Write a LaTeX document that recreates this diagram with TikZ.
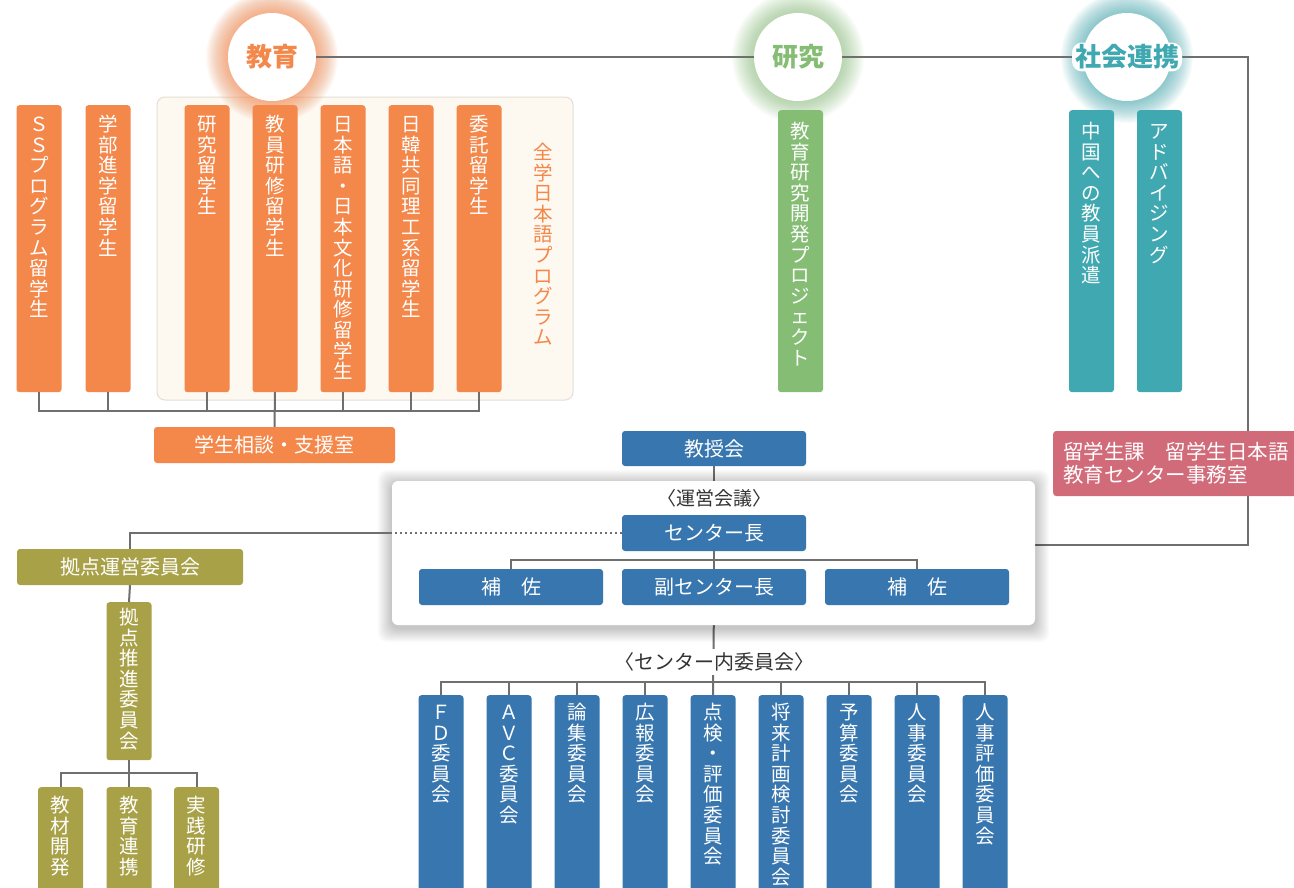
\documentclass[tikz,border=0pt]{standalone}
\usepackage{fontspec}
\setmainfont{Noto Sans CJK JP}
\pgfdeclarelayer{back}
\pgfdeclarelayer{lines}
\pgfsetlayers{back,lines,main}

\definecolor{cOrange}{HTML}{F4874A}
\definecolor{cPanel}{HTML}{FDF8F0}
\definecolor{cPanelEdge}{HTML}{E3DED7}
\definecolor{cGreen}{HTML}{85BD75}
\definecolor{cTeal}{HTML}{40A8B0}
\definecolor{cBlue}{HTML}{3776AE}
\definecolor{cOlive}{HTML}{A8A147}
\definecolor{cPink}{HTML}{D16B7A}
\definecolor{cLine}{HTML}{6F6F6F}
\definecolor{cText}{HTML}{333333}

% vertical (tategaki) text: one character per line
\makeatletter
\newdimen\vtpitch \vtpitch=20.6pt
\def\vt@loop#1{\ifx#1\@nil\else\hbox to 1em{\hss\vrule width 0pt height \dimexpr\vtpitch-0.12em\relax depth 0.12em\relax#1\hss}\expandafter\vt@loop\fi}
\newcommand\vtxt[1]{\vbox{\offinterlineskip\vt@loop#1\@nil}}
\newcommand\vcol[3]{\vbox to #1{\offinterlineskip\vskip#2\relax\vt@loop#3\@nil\vss}}
\makeatother

\tikzset{
  every node/.style={inner sep=0pt},
  vfont/.style={font=\fontsize{19.5}{20}\selectfont},
  colbox/.style={vfont, rounded corners=3pt, text=white, minimum width=45pt, anchor=north},
  ocol/.style={colbox, fill=cOrange},
  gcol/.style={colbox, fill=cGreen},
  tcol/.style={colbox, fill=cTeal},
  bcol/.style={colbox, fill=cBlue},
  lcol/.style={colbox, fill=cOlive},
  wide/.style={rounded corners=3pt, text=white, minimum height=36pt, font=\fontsize{20}{24}\selectfont},
  conn/.style={draw=cLine, line width=2pt},
  mainline/.style={draw=cLine, line width=2.5pt},
  hub/.style={circle, fill=white, minimum size=88pt},
  hubtext/.style={font=\fontsize{26}{30}\selectfont\bfseries},
  label/.style={text=cText, font=\fontsize{19.5}{22}\selectfont},
}

\begin{document}
\begin{tikzpicture}[x=1pt,y=-1pt]
\useasboundingbox (0,0) rectangle (1294,887);
\clip (0,0) rectangle (1294,887);
\begin{pgfonlayer}{back}
  \fill[white] (0,0) rectangle (1294,887);
\end{pgfonlayer}

% ---- three pillars ----
\node[hub] (kyoiku) at (272,57) {};
\node[hub] (kenkyu) at (798,57) {};
\node[hub] (shakai) at (1127,57) {};
\node[hubtext, text=cOrange] (kyoikuL) at (kyoiku) {教育};
\node[hubtext, text=cGreen] (kenkyuL) at (kenkyu) {研究};
\node[hubtext, text=cTeal, fill=white, rounded corners=10pt, inner xsep=3pt, inner ysep=2pt] (shakaiL) at (shakai) {社会連携};

% ---- education columns ----
\node[ocol] (ss)      at (39,105)  {\vcol{287pt}{8pt}{ＳＳプログラム留学生}};
\node[ocol] (gakubu)  at (108,105) {\vcol{287pt}{8pt}{学部進学留学生}};
\node[ocol] (kenR)    at (207,105) {\vcol{287pt}{8pt}{研究留学生}};
\node[ocol] (kyoin)   at (275,105) {\vcol{287pt}{8pt}{教員研修留学生}};
\node[ocol] (nihongo) at (343,105) {\vcol{287pt}{8pt}{日本語・日本文化研修留学生}};
\node[ocol] (nikkan)  at (411,105) {\vcol{287pt}{8pt}{日韓共同理工系留学生}};
\node[ocol] (itaku)   at (479,105) {\vcol{287pt}{8pt}{委託留学生}};
\node[vfont, text=cOrange, anchor=north] (progL) at (543,141) {\vtxt{全学日本語プログラム}};
\node[wide, fill=cOrange, minimum width=241pt] (soudan) at (274.5,445) {学生相談・支援室};

% ---- research / social columns ----
\node[gcol] (kaihatsu) at (800.5,110)  {\vcol{282pt}{10pt}{教育研究開発プロジェクト}};
\node[tcol] (haken)    at (1091.5,110) {\vcol{282pt}{10pt}{中国への教員派遣}};
\node[tcol] (advise)   at (1159.5,110) {\vcol{282pt}{10pt}{アドバイジング}};
\node[fill=cPink, rounded corners=3pt, minimum height=65pt, minimum width=260pt,
      anchor=west, text=white, align=left, text width=240pt,
      font=\fontsize{20.5}{23}\selectfont] (jimu) at (1053,463.5)
      {留学生課　留学生日本語\\教育センター事務室};

% ---- management ----
\node[wide, fill=cBlue, minimum width=184pt, minimum height=35pt] (kyoju) at (714,448.5) {教授会};
\node[fill=white, rounded corners=6pt, minimum width=643pt, minimum height=144pt] (unei) at (713.5,553) {};
\node[label, font=\fontsize{19}{22}\selectfont] (ueiL) at (714,498) {〈運営会議〉};
\node[wide, fill=cBlue, minimum width=184pt] (chief) at (714,533) {センター長};
\node[wide, fill=cBlue, minimum width=184pt] (hosaL) at (511,587) {補　佐};
\node[wide, fill=cBlue, minimum width=184pt] (fuku)  at (714,587) {副センター長};
\node[wide, fill=cBlue, minimum width=184pt] (hosaR) at (917,587) {補　佐};

% ---- committees ----
\node[label, fill=white, inner xsep=2pt, inner ysep=4pt, font=\fontsize{20}{22}\selectfont] (cmL) at (714,662) {〈センター内委員会〉};
\node[bcol] (c1) at (441,695) {\vcol{205pt}{6pt}{ＦＤ委員会}};
\node[bcol] (c2) at (509,695) {\vcol{205pt}{6pt}{ＡＶＣ委員会}};
\node[bcol] (c3) at (577,695) {\vcol{205pt}{6pt}{論集委員会}};
\node[bcol] (c4) at (645,695) {\vcol{205pt}{6pt}{広報委員会}};
\node[bcol] (c5) at (713,695) {\vcol{205pt}{6pt}{点検・評価委員会}};
\node[bcol] (c6) at (781,695) {\vcol{205pt}{6pt}{将来計画検討委員会}};
\node[bcol] (c7) at (849,695) {\vcol{205pt}{6pt}{予算委員会}};
\node[bcol] (c8) at (917,695) {\vcol{205pt}{6pt}{人事委員会}};
\node[bcol] (c9) at (985,695) {\vcol{205pt}{6pt}{人事評価委員会}};

% ---- hub committee (left) ----
\node[wide, fill=cOlive, minimum width=226pt] (kyoten) at (130,567) {拠点運営委員会};
\node[lcol] (suishin) at (129,602) {\vcol{158pt}{4pt}{拠点推進委員会}};
\node[lcol] (k1) at (60.5,787)  {\vcol{113pt}{7pt}{教材開発}};
\node[lcol] (k2) at (129,787)   {\vcol{113pt}{7pt}{教育連携}};
\node[lcol] (k3) at (196.5,787) {\vcol{113pt}{7pt}{実践研修}};

% ---- connectors ----
\coordinate (obus) at (0,411);
\coordinate (ibus) at (0,560);
\coordinate (cbus) at (0,682);
\coordinate (kbus) at (0,773);
\coordinate (turn) at (1248,57);
\coordinate (rin)  at (1035,545);
\coordinate (lin)  at (392,533);

\draw[conn] (ss.south) -- (ss.south |- obus) -- (itaku.south |- obus) -- (itaku.south);
\foreach \n in {gakubu,kenR,kyoin,nihongo,nikkan}
  \draw[conn] (\n.south) -- (\n.south |- obus);
\draw[conn] (kyoin.south) -- (soudan.north);

\draw[conn] (hosaL.north) -- (hosaL.north |- ibus) -- (hosaR.north |- ibus) -- (hosaR.north);
\draw[conn] (chief.south) -- (fuku.north);
\draw[conn, dash pattern=on 2pt off 3pt] (chief.west) -- (lin);
\draw[conn] (lin) -| (kyoten.north);

\draw[conn] (kyoten.south) -- (suishin.north);
\draw[conn] (k1.north) -- (k1.north |- kbus) -- (k3.north |- kbus) -- (k3.north);
\draw[conn] (suishin.south) -- (k2.north);

\begin{pgfonlayer}{lines}
  \draw[mainline] (kyoiku.center) -- (turn) -- (turn |- rin) -- (rin);
  \draw[conn] (kyoju.south) -- (chief.north);
  \draw[conn] (fuku.south) -- (c5.north);
  \draw[conn] (c1.north) -- (c1.north |- cbus) -- (c9.north |- cbus) -- (c9.north);
  \foreach \n in {c2,c3,c4,c6,c7,c8}
    \draw[conn] (\n.north) -- (\n.north |- cbus);
  % soft shadow under the meeting panel
  \foreach \s in {1,...,14}
    \fill[black, opacity=0.016, rounded corners=9pt]
      ([shift={(-\s pt,\s pt-3pt)}]unei.north west) rectangle ([shift={(\s pt,-\s pt-3pt)}]unei.south east);
\end{pgfonlayer}

% ---- program panel and pillar glows ----
\begin{pgfonlayer}{back}
  \node[fill=cPanel, draw=cPanelEdge, line width=1pt, rounded corners=8pt,
        minimum width=416pt, minimum height=303pt] (prog) at (365,248.5) {};
  \foreach \r in {45,...,66} {
    \fill[cOrange, opacity=0.04] (kyoiku.center) circle (\r pt);
    \fill[cGreen, opacity=0.03] (kenkyu.center) circle (\r pt);
    \fill[cTeal, opacity=0.035] (shakai.center) circle (\r pt);
  }
\end{pgfonlayer}
\end{tikzpicture}
\end{document}
